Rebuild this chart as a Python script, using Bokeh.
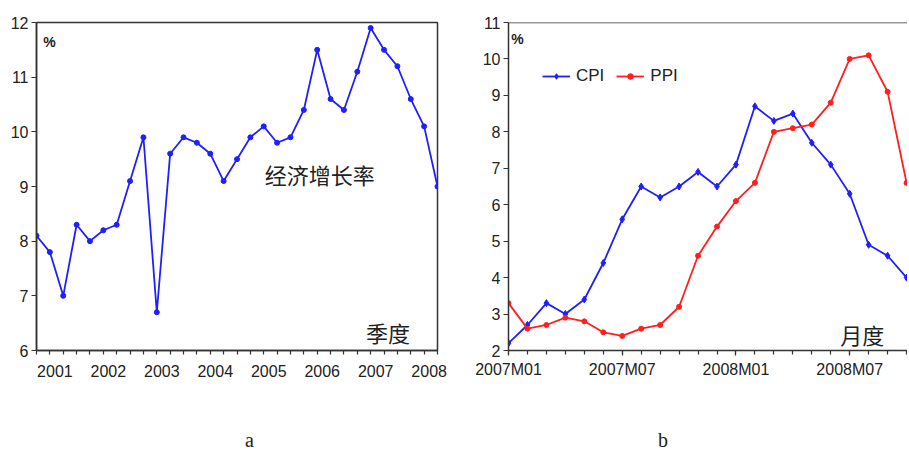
from bokeh.plotting import figure
from bokeh.models import (FixedTicker, Range1d, Label, Legend,
                          LegendItem, Span, Div)
from bokeh.layouts import row, column
from bokeh.embed import file_html
from bokeh.resources import INLINE

# ---------------- data ----------------
# (a) quarterly economic growth, 2001Q1 .. 2008Q3
quarter_index = list(range(31))
gdp_growth = [8.1, 7.8, 7.0, 8.3, 8.0, 8.2, 8.3, 9.1, 9.9, 6.7, 9.6, 9.9, 9.8,
              9.6, 9.1, 9.5, 9.9, 10.1, 9.8, 9.9, 10.4, 11.5, 10.6, 10.4, 11.1,
              11.9, 11.5, 11.2, 10.6, 10.1, 9.0]
year_labels = ["2001", "2002", "2003", "2004", "2005", "2006", "2007", "2008"]
left_y_ticks = [6, 7, 8, 9, 10, 11, 12]

# (b) monthly CPI / PPI, 2007M01 .. 2008M10
month_index = list(range(22))
cpi = [2.2, 2.7, 3.3, 3.0, 3.4, 4.4, 5.6, 6.5, 6.2, 6.5, 6.9, 6.5,
       7.1, 8.7, 8.3, 8.5, 7.7, 7.1, 6.3, 4.9, 4.6, 4.0]
ppi = [3.3, 2.6, 2.7, 2.9, 2.8, 2.5, 2.4, 2.6, 2.7, 3.2, 4.6, 5.4,
       6.1, 6.6, 8.0, 8.1, 8.2, 8.8, 10.0, 10.1, 9.1, 6.6]
month_labels = ["2007M01", "2007M07", "2008M01", "2008M07"]
right_y_ticks = [2, 3, 4, 5, 6, 7, 8, 9, 10, 11]

# ---------------- style ----------------
BLUE = "#1f1fff"
RED = "#ff1f1f"
AX = "#333333"
TXT = "#222222"
SANS = "Liberation Sans"
CJK = "Noto Sans CJK SC"
SERIF = "Liberation Serif"


def style_common(p):
    p.grid.visible = False
    p.background_fill_color = "white"
    p.border_fill_color = "white"
    for ax in p.axis:
        ax.axis_line_color = AX
        ax.axis_line_width = 1.5
        ax.major_tick_line_color = AX
        ax.minor_tick_line_color = AX
        ax.major_tick_line_width = 1.2
        ax.minor_tick_line_width = 1.2
        ax.major_tick_in = 0
        ax.minor_tick_in = 0
        ax.major_tick_out = 5
        ax.minor_tick_out = 4
        ax.major_label_text_font = SANS
        ax.major_label_text_font_size = "16px"
        ax.major_label_text_color = TXT


def caption(text, width, left_pad):
    return Div(text=text, width=width, height=58,
               styles={"font-family": SERIF, "font-size": "20px",
                       "line-height": "24px", "color": TXT,
                       "padding": f"28px 0px 0px {left_pad}px",
                       "box-sizing": "border-box"})


# ---------------- chart a ----------------
p1 = figure(width=470, height=395, x_range=Range1d(0, 30), y_range=Range1d(6, 12),
            output_backend="svg", toolbar_location=None,
            min_border_left=36, min_border_right=33, min_border_top=22,
            min_border_bottom=45)
style_common(p1)
p1.outline_line_color = AX
p1.outline_line_width = 1.5

p1.yaxis.ticker = FixedTicker(ticks=left_y_ticks, minor_ticks=[])
p1.yaxis.major_label_standoff = 3

# year labels sit just right of each year's first quarter; every quarter gets a tick
year_starts = [4 * i for i in range(len(year_labels))]
label_pos = [s + 1.375 for s in year_starts]
xa = p1.xaxis[0]
xa.ticker = FixedTicker(ticks=label_pos, minor_ticks=quarter_index)
xa.major_label_overrides = {pos: lab for pos, lab in zip(label_pos, year_labels)}
xa.major_tick_line_color = None
xa.major_label_standoff = 9

p1.line(quarter_index, gdp_growth, color=BLUE, line_width=1.8)
p1.scatter(quarter_index, gdp_growth, marker="circle", size=5, color=BLUE)

p1.add_layout(Label(x=0.97, y=11.65, text="%", text_font=SANS, text_font_size="14px",
                    text_font_style="bold", text_color=TXT, text_align="center",
                    text_baseline="middle"))
p1.add_layout(Label(x=21.2, y=9.22, text="经济增长率", text_font=CJK,
                    text_font_size="22px", text_color=TXT, text_align="center",
                    text_baseline="middle"))
p1.add_layout(Label(x=26.3, y=6.33, text="季度", text_font=CJK,
                    text_font_size="22px", text_color=TXT, text_align="center",
                    text_baseline="middle"))

# ---------------- chart b ----------------
p2 = figure(width=437, height=395, x_range=Range1d(0, 21.05), y_range=Range1d(2, 11),
            output_backend="svg", toolbar_location=None,
            min_border_left=38, min_border_right=0, min_border_top=20,
            min_border_bottom=45)
style_common(p2)
p2.outline_line_color = None

p2.yaxis.ticker = FixedTicker(ticks=right_y_ticks, minor_ticks=[])
p2.yaxis.major_label_standoff = 3
month_major = [0, 6, 12, 18]
p2.xaxis.ticker = FixedTicker(ticks=month_major, minor_ticks=month_index)
p2.xaxis.major_label_overrides = {m: lab for m, lab in zip(month_major, month_labels)}
p2.xaxis.major_label_standoff = 5

p2.add_layout(Span(location=right_y_ticks[-1], dimension="width",
                   line_color=AX, line_width=1.5))

l_cpi = p2.line(month_index, cpi, color=BLUE, line_width=1.8)
s_cpi = p2.scatter(month_index, cpi, marker="diamond", size=7, color=BLUE)
l_ppi = p2.line(month_index, ppi, color=RED, line_width=1.8)
s_ppi = p2.scatter(month_index, ppi, marker="circle", size=5, color=RED)

legend = Legend(items=[LegendItem(label="CPI", renderers=[l_cpi, s_cpi]),
                       LegendItem(label="PPI", renderers=[l_ppi, s_ppi])],
                orientation="horizontal", location=(34, 264),
                glyph_width=28, glyph_height=14, label_standoff=6, spacing=12,
                padding=0, margin=0, border_line_color=None,
                background_fill_alpha=0, label_text_font=SANS,
                label_text_font_size="17px", label_text_color=TXT)
p2.add_layout(legend)

p2.add_layout(Label(x=0.48, y=10.54, text="%", text_font=SANS, text_font_size="14px",
                    text_font_style="bold", text_color=TXT, text_align="center",
                    text_baseline="middle"))
p2.add_layout(Label(x=18.66, y=2.44, text="月度", text_font=CJK,
                    text_font_size="22px", text_color=TXT, text_align="center",
                    text_baseline="middle"))

layout = column(row(p1, p2), row(caption("a", 470, 240), caption("b", 437, 173)))
open("out.html", "w").write(file_html(layout, INLINE))
